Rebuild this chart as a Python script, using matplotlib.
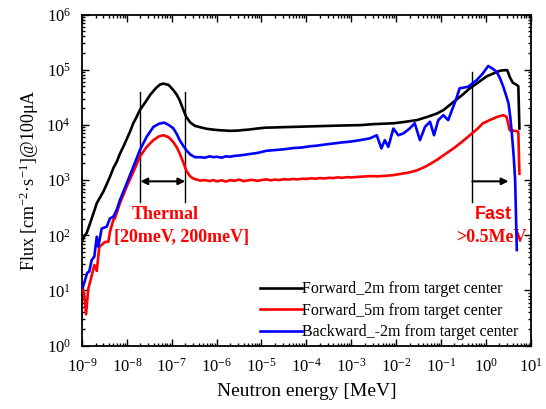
import matplotlib
matplotlib.use("Agg")
import matplotlib.pyplot as plt
from matplotlib.ticker import FixedLocator, LogLocator, LogFormatterMathtext, NullFormatter

plt.rcParams['font.family'] = ['Liberation Serif', 'DejaVu Serif']
plt.rcParams['mathtext.fontset'] = 'stix'
plt.rcParams['axes.unicode_minus'] = False

# ---- spectra: neutron energy [MeV] vs flux [cm^-2 s^-1] @100uA ----
fwd2_e = [1.03e-9, 1.15e-9, 1.27e-9, 1.51e-9, 1.8e-9, 2.13e-9, 2.5e-9, 2.98e-9, 3.5e-9,
          4.2e-9, 5e-9, 5.95e-9, 7e-9, 8.3e-9, 1.0e-8, 1.17e-8, 1.39e-8, 1.65e-8, 1.95e-8,
          2.6e-8, 3.3e-8, 4.5e-8, 5.5e-8, 6.5e-8, 8.5e-8, 1.08e-7, 1.3e-7, 1.5e-7, 1.8e-7,
          2.1e-7, 2.6e-7, 3.3e-7, 4.5e-7, 6e-7, 8.5e-7, 1.2e-6, 1.6e-6, 2e-6, 3e-6, 4e-6,
          5e-6, 8e-6, 1.2e-5, 2e-5, 3e-5, 5e-5, 8e-5, 1.2e-4, 2e-4, 3e-4, 5e-4, 8e-4,
          1.57e-3, 3e-3, 5e-3, 8.7e-3, 0.015, 0.029, 0.05, 0.08, 0.113, 0.19, 0.3, 0.44,
          0.7, 1.05, 1.5, 2.07, 2.6, 3.0, 3.45, 4.0, 4.9, 5.3, 5.6]
fwd2_f = [82, 100, 110, 164, 250, 380, 480, 615, 820,
          1150, 1650, 2150, 3000, 4000, 5600, 7500, 1.07e4, 1.4e4, 1.86e4,
          2.6e4, 3.5e4, 4.7e4, 5.4e4, 5.6e4, 5.3e4, 4.3e4, 3.5e4, 2.8e4, 1.9e4,
          1.4e4, 1.1e4, 9.6e3, 9.0e3, 8.5e3, 8.2e3, 8.0e3, 7.9e3, 7.8e3, 7.9e3, 8.1e3,
          8.2e3, 8.6e3, 8.9e3, 9.0e3, 9.1e3, 9.2e3, 9.3e3, 9.4e3, 9.5e3, 9.6e3, 9.7e3, 9.8e3,
          9.9e3, 1.03e4, 1.05e4, 1.07e4, 1.13e4, 1.22e4, 1.4e4, 1.6e4, 1.85e4, 2.6e4, 3.5e4, 4.6e4,
          6.0e4, 7.6e4, 8.6e4, 9.6e4, 9.8e4, 9.8e4, 7.2e4, 5.8e4, 5.3e4, 5.0e4, 8.6e3]

fwd5_e = [1.04e-9, 1.15e-9, 1.23e-9, 1.38e-9, 1.6e-9, 1.88e-9, 2.13e-9, 2.43e-9, 2.98e-9,
          3.25e-9, 3.86e-9, 4.2e-9, 4.97e-9, 5.4e-9, 7e-9, 9.9e-9, 1.39e-8, 1.95e-8, 2.76e-8,
          3.9e-8, 5.2e-8, 6.5e-8, 8.5e-8, 1.08e-7, 1.3e-7, 1.5e-7, 1.8e-7, 2.1e-7, 2.5e-7,
          3e-7, 3.6e-7, 4.3e-7, 5.5e-7, 7e-7, 8.5e-7, 1.0e-6, 1.3e-6, 1.6e-6, 2e-6, 2.5e-6,
          3.2e-6, 4e-6, 5e-6, 6.3e-6, 8e-6, 1e-5, 1.3e-5, 1.6e-5, 2e-5, 2.5e-5, 3.2e-5, 4e-5,
          5e-5, 6.3e-5, 8e-5, 1e-4, 1.3e-4, 1.6e-4, 2e-4, 2.5e-4, 3.2e-4, 4e-4, 5e-4, 6.3e-4,
          8e-4, 1e-3, 1.57e-3, 2.6e-3, 4e-3, 6e-3, 8.7e-3, 0.013, 0.02, 0.029, 0.045, 0.08,
          0.12, 0.19, 0.3, 0.44, 0.65, 0.86, 1.3, 1.8, 2.45, 2.9, 3.4, 4.0, 4.9, 5.3, 5.6]
fwd5_f = [11.3, 7, 3.7, 10.8, 17, 29, 22.6, 62, 71,
          76, 76, 116, 188, 202, 380, 760, 1.4e3, 2.65e3, 4.0e3,
          5.3e3, 6.2e3, 6.5e3, 6.0e3, 4.9e3, 3.9e3, 3.05e3, 2.1e3, 1.5e3, 1.2e3,
          1.07e3, 1.02e3, 0.98e3, 1.0e3, 0.96e3, 1.0e3, 0.95e3, 0.99e3, 0.94e3, 1.0e3, 0.97e3,
          1.02e3, 0.96e3, 0.99e3, 1.01e3, 0.97e3, 1.0e3, 1.03e3, 0.99e3, 1.02e3, 1.0e3, 1.04e3, 1.02e3,
          1.05e3, 1.03e3, 1.06e3, 1.05e3, 1.08e3, 1.06e3, 1.09e3, 1.07e3, 1.1e3, 1.09e3, 1.12e3, 1.1e3,
          1.13e3, 1.12e3, 1.15e3, 1.18e3, 1.17e3, 1.2e3, 1.23e3, 1.3e3, 1.38e3, 1.5e3, 1.75e3, 2.3e3,
          2.9e3, 3.75e3, 5.0e3, 6.5e3, 8.5e3, 1.07e4, 1.25e4, 1.4e4, 1.5e4, 1.4e4, 8e3, 7.9e3, 7.7e3, 7.5e3, 1.3e3]

bwd2_e = [1.04e-9, 1.31e-9, 1.45e-9, 1.64e-9, 1.88e-9, 2.13e-9, 2.3e-9, 2.75e-9, 3.55e-9,
          4.2e-9, 4.97e-9, 5.95e-9, 7e-9, 9.9e-9, 1.39e-8, 1.95e-8, 2.76e-8, 3.9e-8, 5.2e-8,
          6.8e-8, 8.5e-8, 1.08e-7, 1.3e-7, 1.5e-7, 1.8e-7, 2.1e-7, 2.6e-7, 3.3e-7, 4.3e-7,
          5.5e-7, 7e-7, 8.5e-7, 1.0e-6, 1.3e-6, 1.6e-6, 2e-6, 2.5e-6, 3.3e-6, 4.5e-6, 6e-6,
          8e-6, 1.3e-5, 2e-5, 3e-5, 5e-5, 8e-5, 1.2e-4, 1.7e-4, 2.5e-4, 4e-4, 6e-4, 1e-3,
          1.57e-3, 2.6e-3, 3.7e-3, 4.7e-3, 5.6e-3, 6.7e-3, 8.7e-3, 0.0112, 0.0145, 0.02, 0.026,
          0.034, 0.044, 0.057, 0.07, 0.087, 0.113, 0.145, 0.17, 0.22, 0.26, 0.4, 0.63, 0.85,
          1.13, 1.4, 1.74, 2.1, 2.45, 2.8, 3.2, 3.5, 3.8, 4.2, 4.5, 4.9]
bwd2_f = [11.3, 21, 22, 35.5, 41, 94, 62, 133, 143,
          203, 216, 290, 435, 870, 1740, 3.5e3, 6.1e3, 9.2e3, 1.05e4,
          1.1e4, 1.0e4, 8.7e3, 6.8e3, 5.3e3, 4.2e3, 3.5e3, 2.9e3, 2.6e3, 2.6e3,
          2.55e3, 2.7e3, 2.6e3, 2.65e3, 2.55e3, 2.7e3, 2.65e3, 2.75e3, 2.8e3, 2.9e3, 3.0e3,
          3.1e3, 3.4e3, 3.5e3, 3.6e3, 3.8e3, 3.9e3, 4.1e3, 4.2e3, 4.4e3, 4.6e3, 4.8e3, 5.0e3,
          5.3e3, 5.7e3, 6.5e3, 3.75e3, 5.3e3, 4.0e3, 8.6e3, 6.5e3, 7.0e3, 8.6e3, 1.07e4,
          5.3e3, 9.2e3, 1.14e4, 6.5e3, 1.22e4, 1.5e4, 1.22e4, 1.73e4, 3.0e4, 4.6e4, 4.9e4, 6.5e4, 8.5e4,
          1.17e5, 1.05e5, 9.2e4, 6.8e4, 4.9e4, 3.5e4, 2.45e4, 1.4e4, 7e3, 2.5e3, 1e3, 54]

labels = ["Forward_2m from target center",
          "Forward_5m from target center",
          "Backward_-2m from target center"]
colors = ["black", "#ff0000", "#0000ff"]

# axis decades
x_decades = [1e-9, 1e-8, 1e-7, 1e-6, 1e-5, 1e-4, 1e-3, 1e-2, 1e-1, 1e0, 1e1]
y_decades = [1e0, 1e1, 1e2, 1e3, 1e4, 1e5, 1e6]

# energy windows [MeV]
thermal_lo, thermal_hi = 2e-8, 2e-7
fast_lo, fast_arrow_end = 0.5, 3.2

fig = plt.figure(figsize=(5.46, 4.09), dpi=100)
ax = fig.add_axes([0.1502, 0.1548, 0.8218, 0.8097])

for e, f, c, lab in zip([fwd2_e, fwd5_e, bwd2_e], [fwd2_f, fwd5_f, bwd2_f], colors, labels):
    ax.plot(e, f, color=c, lw=1.9, label=lab, zorder=3)

ax.set_xscale('log')
ax.set_yscale('log')
ax.set_xlim(x_decades[0], x_decades[-1])
ax.set_ylim(y_decades[0], y_decades[-1])

for axis, dec in ((ax.xaxis, x_decades), (ax.yaxis, y_decades)):
    axis.set_major_locator(FixedLocator(dec))
    axis.set_minor_locator(LogLocator(base=10, subs=range(2, 10), numticks=20))
    axis.set_major_formatter(LogFormatterMathtext())
    axis.set_minor_formatter(NullFormatter())

ax.tick_params(which='both', direction='in', top=True, right=True, width=1.0)
ax.tick_params(which='major', length=5, labelsize=12)
ax.tick_params(axis='x', which='major', pad=9)
ax.tick_params(axis='y', which='major', pad=8)
ax.tick_params(which='minor', length=2.5)
for s in ax.spines.values():
    s.set_linewidth(1.3)

ax.set_xlabel("Neutron energy [MeV]", fontsize=14, labelpad=5)
ax.set_ylabel(r"Flux [cm$^{\mathregular{-2}}$·s$^{\mathregular{-1}}$]@100μA", fontsize=13, labelpad=4)

# thermal window markers
for xv in (thermal_lo, thermal_hi):
    ax.plot([xv, xv], [405, 4.0e4], color='black', lw=1.0, zorder=2)
ax.annotate("", xy=(thermal_lo, 950), xytext=(thermal_hi, 950),
            arrowprops=dict(arrowstyle='<|-|>', color='black', lw=1.5,
                            mutation_scale=10, shrinkA=0, shrinkB=0))
ax.text(7.3e-8, 242, "Thermal", color='#ff0000', fontsize=13, fontweight='bold',
        ha='center', va='center', zorder=1)
ax.text(1.66e-7, 93, "[20meV, 200meV]", color='#ff0000', fontsize=13, fontweight='bold',
        ha='center', va='center', zorder=1)

# fast window marker
ax.plot([fast_lo, fast_lo], [405, 9.2e4], color='black', lw=1.0, zorder=2)
ax.annotate("", xy=(fast_arrow_end, 950), xytext=(fast_lo, 950),
            arrowprops=dict(arrowstyle='-|>', color='black', lw=1.5,
                            mutation_scale=10, shrinkA=0, shrinkB=0))
ax.text(1.45, 242, "Fast", color='#ff0000', fontsize=13, fontweight='bold',
        family=['Liberation Sans', 'DejaVu Sans'], ha='center', va='center', zorder=1)
ax.text(1.3, 93, ">0.5MeV", color='#ff0000', fontsize=13, fontweight='bold',
        ha='center', va='center', zorder=1)

ax.legend(loc='lower right', frameon=False, fontsize=11.5, handlelength=2.6,
          handletextpad=0.05, labelspacing=0.34, borderaxespad=0.15, borderpad=0.2,
          bbox_to_anchor=(0.986, 0.0))

fig.savefig("out.png", dpi=100)
